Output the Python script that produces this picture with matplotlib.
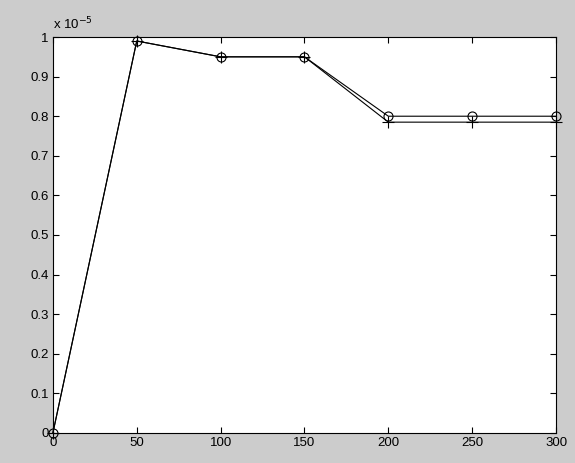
import numpy as np
import matplotlib.pyplot as plt
from matplotlib.ticker import FuncFormatter

# data (y in units of 1e-5)
x = [0, 50, 100, 150, 200, 250, 300]
y_circle = [0.0, 0.99, 0.95, 0.95, 0.80, 0.80, 0.80]
y_plus = [0.0, 0.99, 0.95, 0.95, 0.785, 0.785, 0.785]
scale = 1e-5

plt.rcParams['font.family'] = ['Liberation Sans', 'DejaVu Sans']

fig = plt.figure(figsize=(5.75, 4.63), dpi=100, facecolor='#cccccc')
ax = fig.add_axes([0.092, 0.065, 0.875, 0.855])
ax.set_facecolor('white')

ax.plot(x, np.array(y_circle) * scale, color='black', lw=0.8, marker='o',
        markersize=6.5, markerfacecolor='none', markeredgewidth=0.8, clip_on=False)
ax.plot(x, np.array(y_plus) * scale, color='black', lw=0.8, marker='+',
        markersize=8, markeredgewidth=0.8, clip_on=False)

ax.set_xlim(0, 300)
ax.set_ylim(0, 1e-5)
ax.set_xticks(x)
ax.set_yticks(np.arange(0, 11) * 0.1 * scale)
ax.yaxis.set_major_formatter(FuncFormatter(lambda v, p: f"{v / scale:g}"))

ax.tick_params(direction='in', top=True, right=True, length=4, width=0.8,
               labelsize=9.5, pad=3, colors='black')
for s in ax.spines.values():
    s.set_linewidth(0.8)

ax.text(0.0, 1.012, r"x 10$^{-5}$", transform=ax.transAxes, fontsize=9.5,
        ha='left', va='bottom')

plt.savefig("out.png", dpi=100, facecolor=fig.get_facecolor())
